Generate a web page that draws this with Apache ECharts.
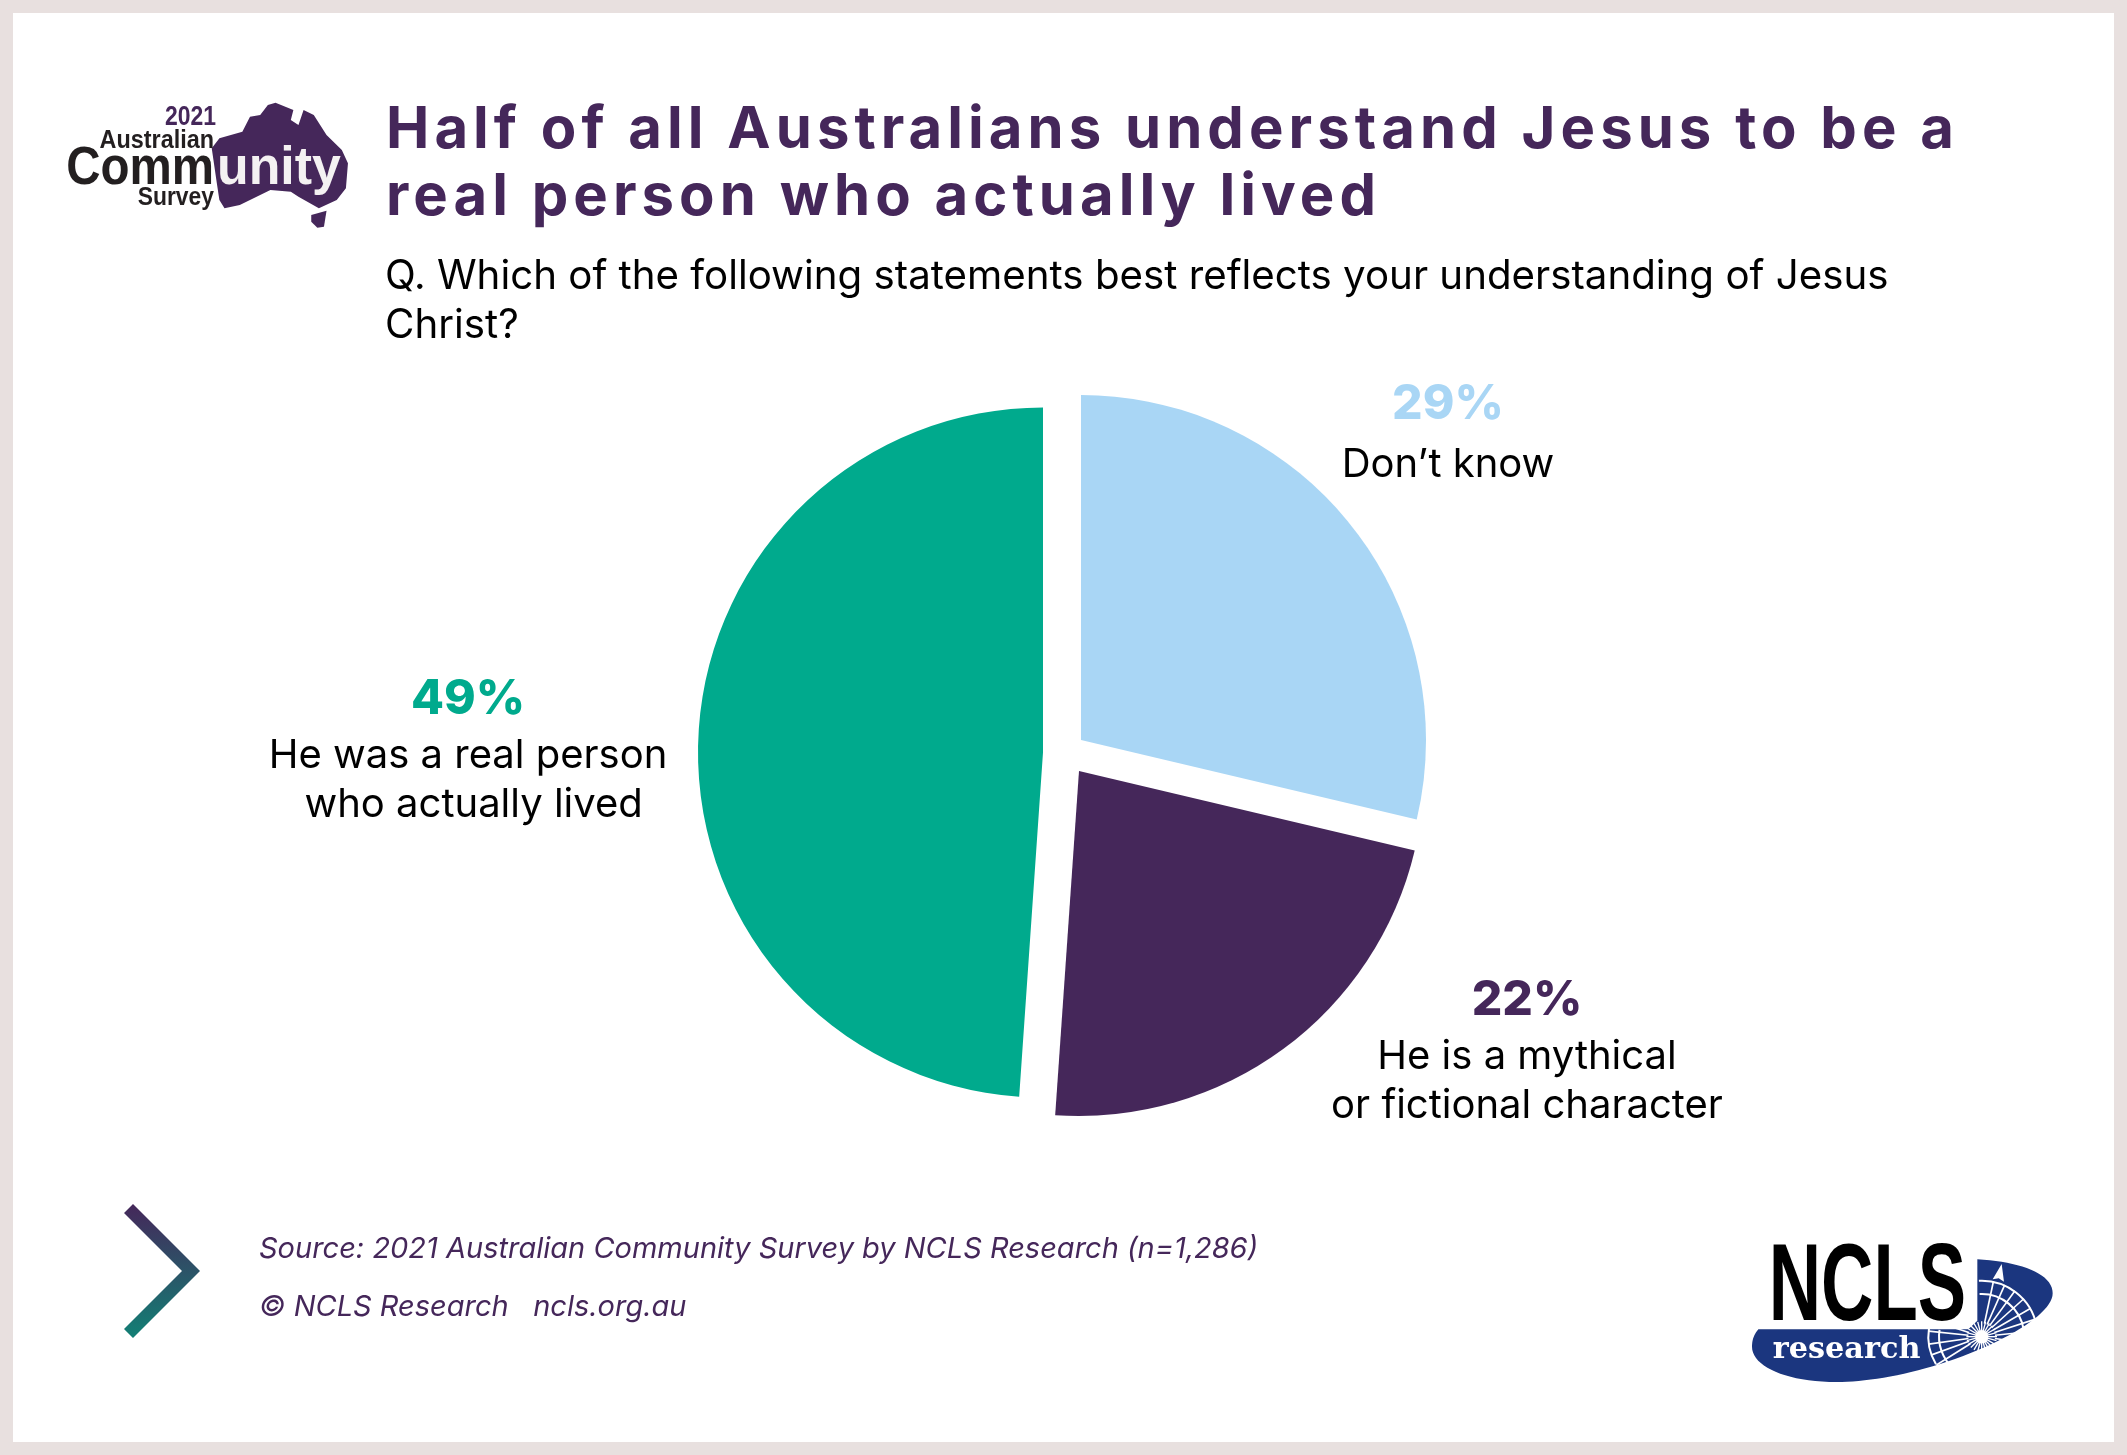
<!DOCTYPE html>
<html>
<head>
<meta charset="utf-8">
<title>Half of all Australians understand Jesus</title>
<script src="https://cdn.jsdelivr.net/npm/echarts@6/dist/echarts.min.js"></script>
<style>
html, body { margin: 0; padding: 0; background: #fff; }
#wrap { position: relative; width: 2127px; height: 1455px; overflow: hidden; }
#chart { position: absolute; left: 0; top: 0; width: 2127px; height: 1455px; }
#headline {
    position: absolute; left: 386px; top: 94px; margin: 0;
    font: 700 58px/67px Inter, sans-serif; letter-spacing: 5.05px;
    color: #45275a; white-space: nowrap;
}
</style>
</head>
<body>
<div id="wrap">
    <div id="chart"></div>
    <h1 id="headline">Half of all Australians understand Jesus to be a<br>real person who actually lived</h1>
</div>
<script>
var categories = ['Don\u2019t know', 'He is a mythical\nor fictional character', 'He was a real person\n who actually lived'];
var shares = [28.7, 22.4, 48.9];
var sliceColors = ['#a9d6f5', '#45275a', '#00aa8d'];
// each slice is pulled out on its own, so each gets its own pie
var sliceCenters = [[1081, 740], [1079, 771], [1043, 752.5]];
var labelSpots = [[1448, 429], [1527, 1050], [468, 749]];

var questionLines = ['Q. Which of the following statements best reflects your understanding of Jesus', 'Christ?'];
var sourceLine = 'Source: 2021 Australian Community Survey by NCLS Research (n=1,286)';
var copyLine = '\u00a9 NCLS Research   ncls.org.au';

var chart = echarts.init(document.getElementById('chart'));

function pieFor(idx) {
    return {
        type: 'pie',
        center: sliceCenters[idx],
        radius: [0, 345],
        startAngle: 90,
        clockwise: true,
        silent: true,
        animation: false,
        avoidLabelOverlap: false,
        label: { show: false },
        labelLine: { show: false },
        labelLayout: { x: labelSpots[idx][0], y: labelSpots[idx][1], align: 'center', verticalAlign: 'middle' },
        data: categories.map(function (name, i) {
            return {
                name: name,
                value: shares[i],
                itemStyle: { color: i === idx ? sliceColors[i] : 'transparent' },
                label: i !== idx ? { show: false } : {
                    show: true,
                    position: 'outside',
                    formatter: function (p) {
                        var lines = p.name.split('\n').map(function (l) { return '{name|' + l + '}'; });
                        return '{pct|' + Math.round(p.value) + '%}\n' + lines.join('\n');
                    },
                    rich: {
                        pct: { fontFamily: 'Inter', fontWeight: 800, fontSize: 48, lineHeight: i === 0 ? 72 : 63, color: sliceColors[i], align: 'center' },
                        name: { fontFamily: 'Inter', fontSize: 40, lineHeight: 49, color: '#000', align: 'center' }
                    }
                }
            };
        })
    };
}

var purple = '#45275a';
var navy = '#1b367f';

// graphic has no path element, so curves become point lists
function bezier(p0, p1, p2, p3) {
    var pts = [];
    for (var t = 0; t <= 1.001; t += 0.05) {
        var u = 1 - t;
        pts.push([
            u * u * u * p0[0] + 3 * u * u * t * p1[0] + 3 * u * t * t * p2[0] + t * t * t * p3[0],
            u * u * u * p0[1] + 3 * u * u * t * p1[1] + 3 * u * t * t * p2[1] + t * t * t * p3[1]
        ]);
    }
    return pts;
}

// Australian Community Survey badge, drawn in zoomed crop units
var badge = {
    type: 'group', x: 0, y: 60, scaleX: 1 / 1.96, scaleY: 1 / 3,
    children: [
        { type: 'polygon', shape: { points: [[415, 265], [430, 235], [475, 215], [490, 170], [510, 165], [525, 135], [540, 128], [575, 150], [570, 180], [585, 195], [595, 150], [615, 165], [640, 225], [670, 270], [682, 310], [678, 385], [660, 420], [625, 445], [585, 410], [570, 395], [530, 390], [470, 435], [440, 445], [430, 420], [425, 370]] }, style: { fill: purple } },
        { type: 'polygon', shape: { points: [[610, 465], [640, 452], [635, 500], [622, 503], [610, 485]] }, style: { fill: purple } }
    ]
};
var logoFont = '"Liberation Sans", sans-serif';
function logoText(t, x, y, size, color, align, sx) {
    return {
        type: 'text', x: x, y: y, scaleX: sx || 1,
        style: { text: t, fontFamily: logoFont, fontWeight: 'bold', fontSize: size, fill: color, align: align, verticalAlign: 'middle' }
    };
}

// NCLS logo, also in crop units (1/3 px)
var cx = 785, cy = 380;
var logoChildren = [
    { type: 'polygon', shape: { points: [].concat(
        bezier([772, 148], [900, 155], [998, 190], [998, 250]),
        bezier([998, 250], [998, 300], [900, 370], [750, 430]),
        bezier([750, 430], [600, 490], [450, 516], [350, 516]),
        bezier([350, 516], [200, 516], [96, 470], [96, 410]),
        bezier([96, 410], [96, 385], [105, 370], [115, 358]),
        [[745, 358], [772, 332]]
    ) }, style: { fill: navy } }
];
[-78, -66, -54, -42, -30, -18, -6, 8, 172, 160, 148, 186, 198].forEach(function (a) {
    var r = a * Math.PI / 180;
    var len = a > 90 ? 160 : 170;
    logoChildren.push({ type: 'line', shape: { x1: cx + 40 * Math.cos(r), y1: cy + 40 * Math.sin(r), x2: cx + len * Math.cos(r), y2: cy + len * Math.sin(r) }, style: { stroke: '#fff', lineWidth: 5 } });
});
for (var b = 0; b < 360; b += 15) {
    var br = b * Math.PI / 180;
    logoChildren.push({ type: 'line', shape: { x1: cx + 18 * Math.cos(br), y1: cy + 18 * Math.sin(br), x2: cx + 46 * Math.cos(br), y2: cy + 46 * Math.sin(br) }, style: { stroke: '#fff', lineWidth: 4 } });
}
logoChildren.push(
    { type: 'arc', shape: { cx: cx, cy: cy, r: 168, startAngle: -1.62, endAngle: -0.2, clockwise: true }, style: { stroke: '#fff', lineWidth: 6, fill: 'none' } },
    { type: 'arc', shape: { cx: cx, cy: cy, r: 128, startAngle: -1.62, endAngle: -0.15, clockwise: true }, style: { stroke: '#fff', lineWidth: 6, fill: 'none' } },
    { type: 'arc', shape: { cx: cx, cy: cy, r: 160, startAngle: 2.6, endAngle: 3.3, clockwise: true }, style: { stroke: '#fff', lineWidth: 6, fill: 'none' } },
    { type: 'arc', shape: { cx: cx, cy: cy, r: 128, startAngle: 2.3, endAngle: 3.3, clockwise: true }, style: { stroke: '#fff', lineWidth: 6, fill: 'none' } },
    { type: 'circle', shape: { cx: cx, cy: cy, r: 20 }, style: { fill: '#fff' } },
    { type: 'polygon', shape: { points: [[845, 162], [852, 215], [836, 205], [818, 208]] }, style: { fill: '#fff' } },
    { type: 'text', x: 146, y: 239, scaleX: 0.66, style: { text: 'NCLS', fontFamily: logoFont, fontWeight: 'bold', fontSize: 330, fill: '#000', align: 'left', verticalAlign: 'middle' } },
    { type: 'text', x: 158, y: 420, style: { text: 'research', fontFamily: '"DejaVu Serif", serif', fontWeight: 'bold', fontSize: 91, fill: '#fff', align: 'left', verticalAlign: 'middle' } }
);
var ncls = { type: 'group', x: 1720, y: 1210, scaleX: 1 / 3, scaleY: 1 / 3, children: logoChildren };

var option = {
    backgroundColor: '#fff',
    animation: false,
    tooltip: { show: false },
    title: [
        { text: questionLines[0], left: 385, top: 257, textStyle: { fontFamily: 'Inter', fontWeight: 400, fontSize: 40.25, color: '#000' }, padding: 0 },
        { text: questionLines[1], left: 385, top: 306, textStyle: { fontFamily: 'Inter', fontWeight: 400, fontSize: 40.25, color: '#000' }, padding: 0 },
        { text: sourceLine, left: 259, top: 1235, textStyle: { fontFamily: 'Inter', fontWeight: 400, fontStyle: 'italic', fontSize: 29, color: purple }, padding: 0 },
        { text: copyLine, left: 259, top: 1293, textStyle: { fontFamily: 'Inter', fontWeight: 400, fontStyle: 'italic', fontSize: 29, color: purple }, padding: 0 }
    ],
    graphic: [
        { type: 'rect', shape: { x: 6.5, y: 6.5, width: 2114, height: 1442 }, style: { fill: 'none', stroke: '#e8e0df', lineWidth: 13 } },
        { type: 'polygon', shape: { points: [[133, 1204], [200, 1271], [133, 1338], [124, 1329], [182, 1271], [124, 1213]] },
          style: { fill: new echarts.graphic.LinearGradient(0, 0, 0, 1, [{ offset: 0, color: '#45275a' }, { offset: 1, color: '#128075' }]) } },
        badge,
        logoText('2021', 216, 118, 27, purple, 'right', 0.85),
        logoText('Australian', 214, 141, 26, '#231f20', 'right', 0.9),
        logoText('Comm', 214, 169, 54, '#231f20', 'right', 0.88),
        logoText('unity', 217, 169, 54, '#f4f1f2', 'left', 0.96),
        logoText('Survey', 214, 198, 26, '#231f20', 'right', 0.88),
        ncls
    ],
    series: [pieFor(0), pieFor(1), pieFor(2)]
};

chart.setOption(option);
</script>
</body>
</html>
